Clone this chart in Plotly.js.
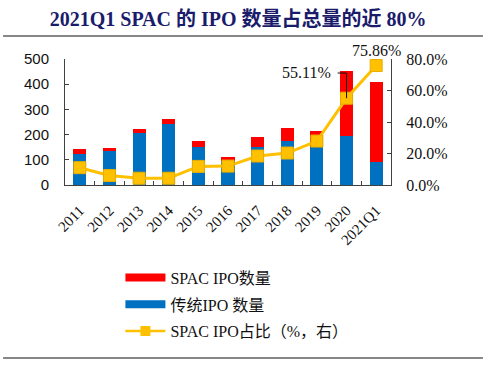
<!DOCTYPE html>
<html><head><meta charset="utf-8">
<script src="https://cdn.plot.ly/plotly-3.0.1.min.js"></script>
<style>html,body{margin:0;padding:0;background:#fff}#chart{width:489px;height:366px}</style>
</head><body><div id="chart"></div>
<script>
const categories = ['2011','2012','2013','2014','2015','2016','2017','2018','2019','2020','2021Q1'];
const traditionalIPO = [123, 134, 207, 244, 152, 95, 151, 175, 150, 196, 93];
const spacIPO = [20, 14, 16, 16, 24, 17, 41, 53, 66, 256, 316];
const spacShare = [0.110, 0.060, 0.043, 0.043, 0.118, 0.120, 0.184, 0.203, 0.279, 0.5511, 0.7586];
const yLeftTicks = [0, 100, 200, 300, 400, 500];
const yRightTicks = [0, 0.2, 0.4, 0.6, 0.8];

const serif = '"Liberation Serif", "Times New Roman", "Noto Sans CJK SC", serif';
const RED = '#FF0000', BLUE = '#0070C0', GOLD = '#FFC000';

const traces = [
  {type:'bar', x:categories, y:traditionalIPO, marker:{color:BLUE}, showlegend:false, yaxis:'y', hoverinfo:'skip'},
  {type:'bar', x:categories, y:spacIPO, marker:{color:RED}, showlegend:false, yaxis:'y', hoverinfo:'skip'},
  {type:'scatter', mode:'lines+markers', x:categories, y:spacShare, yaxis:'y2',
   line:{color:GOLD, width:3}, marker:{symbol:'square', size:12, color:GOLD, line:{color:'#E8AE00', width:1}},
   showlegend:false},
  {type:'scatter', mode:'lines', x:[null], y:[null], name:'SPAC IPO数量', line:{color:RED, width:8}, legendgroup:'a'},
  {type:'scatter', mode:'lines', x:[null], y:[null], name:'传统IPO 数量', line:{color:BLUE, width:8}, legendgroup:'b'},
  {type:'scatter', mode:'lines+markers', x:[null], y:[null], name:'SPAC IPO占比（%，右）', yaxis:'y2',
   line:{color:GOLD, width:2.5}, marker:{symbol:'square', size:10, color:GOLD}, legendgroup:'c'}
];

const n = categories.length;
const layout = {
  width:489, height:366,
  margin:{l:65, r:98, t:59, b:181},
  paper_bgcolor:'#fff', plot_bgcolor:'#fff',
  barmode:'stack', bargap:0.56,
  title:{text:'<b>2021Q1 SPAC 的 IPO 数量占总量的近 80%</b>', x:0.487, xanchor:'center', y:0.948, yanchor:'middle',
         font:{family:serif, size:20, color:'#1B1B6B'}},
  xaxis:{type:'category', showline:true, linecolor:'#404040', linewidth:1, ticks:'inside', ticklen:4, tickcolor:'#404040',
         tickson:'boundaries', tickangle:-45, ticklabelstandoff:10, tickfont:{family:serif, size:15, color:'#111'},
         showgrid:false, zeroline:false, range:[-0.5, n-0.5], fixedrange:true},
  yaxis:{range:[0,500], tickvals:yLeftTicks, showline:true, linecolor:'#404040', linewidth:1, ticks:'inside', ticklen:4,
         tickcolor:'#404040', showgrid:false, zeroline:false, ticklabelstandoff:12,
         tickfont:{family:'"Liberation Sans", Arial, sans-serif', size:15, color:'#111'}},
  yaxis2:{overlaying:'y', side:'right', range:[0,0.8], tickvals:yRightTicks, tickformat:'.1%', showline:true,
          linecolor:'#404040', linewidth:1, ticks:'inside', ticklen:4, tickcolor:'#404040', showgrid:false, zeroline:false,
          ticklabelstandoff:11, tickfont:{family:serif, size:16, color:'#111'}},
  legend:{x:0.17, y:-0.6, xanchor:'left', yanchor:'top', orientation:'v', tracegroupgap:3,
          font:{family:serif, size:16, color:'#111'}, bgcolor:'rgba(0,0,0,0)', itemwidth:40},
  showlegend:true,
  annotations:[
    {x:categories[n-1], y:spacShare[n-1], yref:'y2', xref:'x', text:(spacShare[n-1]*100).toFixed(2)+'%', showarrow:false,
     yshift:15, font:{family:serif, size:16, color:'#111'}},
    {x:0.822, y:0.889, yref:'paper', xref:'paper', text:(spacShare[n-2]*100).toFixed(2)+'%', showarrow:false,
     xanchor:'right', yanchor:'middle', font:{family:serif, size:16, color:'#111'}}
  ],
  shapes:[
    {type:'path', xref:'x', yref:'y2', path:'M 8.7,0.711 L 9,0.711 L 9,'+spacShare[n-2], line:{color:'#111', width:1}},
    {type:'line', xref:'paper', yref:'paper', x0:-0.19, x1:1.282, y0:1.1825, y1:1.1825, line:{color:'#111', width:1.2}},
    {type:'line', xref:'paper', yref:'paper', x0:-0.19, x1:1.282, y0:-1.373, y1:-1.373, line:{color:'#111', width:1.2}}
  ]
};
Plotly.newPlot('chart', traces, layout, {displayModeBar:false, staticPlot:true});
</script></body></html>
